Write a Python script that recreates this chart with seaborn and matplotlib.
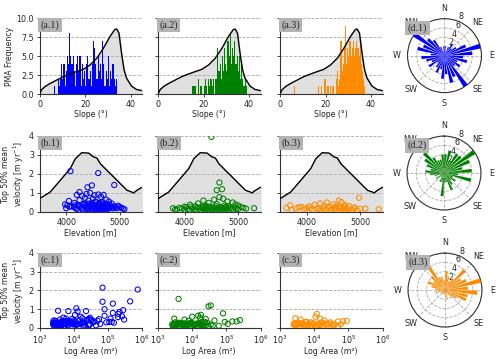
import numpy as np
import pandas as pd
import matplotlib
matplotlib.use("Agg")
import matplotlib.pyplot as plt
import seaborn as sns

# ---------------- data ----------------
colors = ["#0000ff", "#008000", "#ff8c00"]

# slope histogram bins (left edges, 0.5 deg wide) and PMA counts per group
slope_bin_left = np.arange(5.0, 39.0, 0.5)
blue_counts = [0, 0, 0, 1, 0, 0, 2, 1, 2, 4, 2, 4, 1, 3, 5, 4, 8, 5, 4, 5,
               3, 1, 4, 5, 3, 5, 1, 4, 2, 3, 1, 4, 5, 2, 3, 1, 4, 7, 6, 4,
               2, 5, 3, 4, 2, 7, 4, 1, 3, 2, 5, 1, 3, 2, 4, 2, 1, 2, 0, 0,
               0, 0, 0, 0, 0, 0, 0, 0]
green_counts = [0, 0, 0, 0, 0, 0, 0, 0, 0, 0, 0, 0, 0, 0, 0, 0, 0, 0, 0, 0,
                1, 1, 1, 0, 0, 2, 0, 1, 1, 0, 1, 2, 1, 0, 2, 1, 2, 1, 2, 0,
                2, 2, 6, 3, 4, 2, 5, 3, 6, 4, 3, 7, 5, 8, 4, 6, 5, 7, 4, 5,
                3, 5, 2, 4, 2, 1, 2, 1]
orange_counts = [0, 0, 1, 0, 0, 0, 0, 0, 0, 0, 0, 0, 0, 0, 0, 0, 0, 0, 0, 0,
                 0, 0, 0, 1, 0, 0, 1, 0, 0, 2, 0, 1, 1, 0, 1, 0, 1, 0, 0, 2,
                 3, 1, 2, 7, 3, 4, 6, 9, 4, 6, 5, 7, 5, 6, 7, 5, 6, 7, 6, 5,
                 7, 4, 3, 2, 1, 0, 0, 0]

# background slope distribution (scaled)
slope_bg_x = [0, 1, 2.5, 4.7, 7.6, 10.5, 13.4, 16.3, 19.3, 22.2, 25.1, 28, 31,
              33.1, 33.9, 34.9, 36, 37.1, 38.2, 40.4, 42.6, 45]
slope_bg_y = [0, 0.6, 1.0, 1.4, 1.85, 2.3, 2.64, 2.95, 3.26, 3.83, 4.7, 6.0,
              7.6, 8.5, 8.55, 8.0, 5.4, 3.2, 2.1, 1.05, 0.6, 0.45]

# background elevation distribution (scaled)
elev_bg_x = [3500, 3700, 3890, 4075, 4170, 4290, 4420, 4510, 4575, 4640, 4760,
             4890, 5010, 5140, 5230, 5260, 5325, 5420]
elev_bg_y = [0.7, 1.05, 1.67, 2.28, 2.8, 3.12, 3.1, 2.9, 2.84, 2.54, 2.2,
             1.84, 1.5, 1.14, 1.05, 1.0, 1.14, 1.3]

# per-PMA: velocity, elevation, area
blue_vel = [2.15, 2.05, 1.42, 1.40, 1.30, 1.05, 1.00, 0.95, 0.92, 0.90, 0.90, 0.88,
            0.85, 0.80, 0.75, 0.70, 0.65, 0.62, 0.60, 0.58, 0.55, 0.55, 0.50, 0.45,
            0.48, 0.40, 0.35, 0.30, 0.25, 0.20, 0.15, 0.38, 0.32, 0.28, 0.22, 0.18,
            0.12, 0.42, 0.36, 0.30, 0.26, 0.21, 0.16, 0.10, 0.44, 0.34, 0.29, 0.24,
            0.19, 0.14, 0.08, 0.40, 0.33, 0.27, 0.23, 0.17, 0.12, 0.06, 0.38, 0.31,
            0.26, 0.21, 0.15, 0.10, 0.42, 0.35, 0.28, 0.22, 0.17, 0.12, 0.36, 0.30,
            0.25, 0.20, 0.14, 0.09, 0.40, 0.32, 0.27, 0.22, 0.18, 0.35, 0.28, 0.23,
            0.19, 0.30, 0.25, 0.20, 0.33, 0.27, 0.22, 0.18, 0.15, 0.38, 0.45, 0.50,
            0.52, 0.48, 0.35, 0.28, 0.20, 0.47, 0.43]
blue_elev = [4080, 4600, 4900, 4480, 4400, 4250, 4450, 4380, 4600, 4200, 4700, 4530,
             4300, 4650, 4350, 4500, 4750, 4250, 4420, 4050, 4800, 4550, 4650, 4850,
             4150, 3980, 4020, 4100, 4150, 4180, 4200, 4220, 4240, 4260, 4280, 4300,
             4310, 4320, 4340, 4360, 4370, 4390, 4400, 4410, 4420, 4430, 4440, 4460,
             4470, 4480, 4490, 4500, 4510, 4520, 4530, 4540, 4550, 4560, 4570, 4580,
             4590, 4600, 4610, 4620, 4630, 4640, 4660, 4670, 4680, 4690, 4700, 4710,
             4720, 4730, 4740, 4750, 4760, 4770, 4780, 4790, 4800, 4820, 4840, 4860,
             4880, 4900, 4920, 4950, 4970, 5000, 5030, 5060, 5090, 4470, 4360, 4560,
             4680, 4480, 4150, 4060, 4000, 4620, 4740]
blue_area = [7.0e4, 7.5e5, 4.5e5, 7.0e4, 1.4e5, 1.2e4, 8.0e4, 2.8e5, 3.5e3, 7.0e3, 2.3e4, 1.3e4,
             2.2e5, 1.4e5, 2.0e5, 1.1e4, 8.0e4, 2.6e5, 1.6e4, 2.0e5, 5.0e3, 3.0e4, 1.2e5, 3.0e5,
             9.0e3, 2.6e3, 3.0e3, 4.0e3, 2.8e3, 5.5e3, 3.2e3, 6.0e3, 8.0e3, 2.5e3, 1.0e4, 4.5e3,
             3.5e3, 1.5e4, 6.5e3, 2.0e4, 9.0e3, 3.8e3, 1.2e4, 2.7e3, 2.5e4, 5.0e3, 1.8e4, 7.0e3,
             3.0e4, 4.2e3, 2.9e3, 1.0e4, 4.0e4, 6.0e3, 1.4e4, 3.3e3, 2.2e4, 5.2e3, 5.0e4, 8.5e3,
             1.7e4, 3.6e3, 2.8e4, 6.8e3, 3.4e4, 4.6e3, 1.1e4, 6.0e4, 2.6e3, 1.9e4, 7.5e3, 9.0e4,
             3.1e3, 1.3e4, 4.5e4, 5.8e3, 2.4e4, 1.1e5, 3.9e3, 1.6e4, 7.2e3, 3.8e4, 1.5e5, 2.9e3,
             1.2e4, 6.2e3, 2.1e4, 4.8e3, 1.3e5, 8.0e3, 3.4e3, 1.0e4, 2.7e4, 2.9e3, 4.0e3, 6.0e3,
             1.8e4, 2.8e4, 1.1e4, 5.0e3, 2.5e3, 5.5e4, 3.2e4]

green_vel = [3.95, 1.55, 1.20, 1.15, 0.78, 0.70, 0.65, 0.60, 0.55, 0.50, 0.48, 0.45,
             0.42, 0.40, 0.38, 0.35, 0.35, 0.32, 0.30, 0.20, 0.15, 0.22, 0.18, 0.12,
             0.25, 0.16, 0.10, 0.28, 0.20, 0.14, 0.08, 0.24, 0.18, 0.12, 0.26, 0.20,
             0.15, 0.10, 0.22, 0.17, 0.12, 0.28, 0.21, 0.16, 0.11, 0.25, 0.19, 0.14,
             0.09, 0.23, 0.18, 0.13, 0.27, 0.21, 0.16, 0.11, 0.24, 0.19, 0.14, 0.30,
             0.22, 0.17, 0.12, 0.25, 0.20, 0.15, 0.27, 0.22, 0.18, 0.20, 0.32, 0.30,
             0.26, 0.12, 0.28]
green_elev = [4500, 4650, 4700, 4600, 4650, 4720, 4550, 4350, 4800, 4900, 4450, 4250,
              4600, 4950, 4100, 5000, 4750, 4400, 4200, 3780, 3850, 3900, 3950, 4000,
              4030, 4060, 4090, 4120, 4150, 4180, 4210, 4240, 4270, 4300, 4320, 4340,
              4360, 4380, 4400, 4420, 4440, 4460, 4480, 4500, 4520, 4540, 4560, 4580,
              4600, 4620, 4640, 4660, 4680, 4700, 4720, 4740, 4760, 4780, 4800, 4820,
              4850, 4880, 4910, 4940, 4970, 5000, 5050, 5100, 5150, 5300, 4580, 4350,
              4780, 3820, 4000]
green_area = [2.7e3, 4.0e3, 3.5e4, 3.0e4, 8.0e4, 1.8e4, 1.5e4, 1.0e4, 1.7e4, 3.0e3, 2.5e4, 6.0e3,
              2.5e5, 4.5e4, 8.0e3, 2.0e5, 1.5e5, 9.0e4, 3.2e3, 2.6e3, 3.0e3, 4.0e3, 5.0e3, 2.8e3,
              6.0e3, 3.5e3, 7.0e3, 9.0e3, 4.5e3, 1.2e4, 3.0e3, 1.5e4, 5.5e3, 2.0e4, 3.8e3, 8.0e3,
              1.1e4, 2.7e3, 1.8e4, 6.5e3, 2.5e4, 4.2e3, 1.3e4, 7.5e3, 3.0e4, 5.0e3, 9.5e3, 2.2e4,
              3.3e3, 1.6e4, 6.0e3, 4.0e4, 1.0e4, 2.9e3, 2.0e4, 5.2e3, 1.4e4, 3.5e4, 7.0e3, 2.4e4,
              4.5e3, 1.2e4, 6.0e4, 8.5e3, 3.7e3, 1.7e4, 2.8e4, 1.1e5, 5.0e3, 1.3e4, 1.9e4, 2.3e4,
              9.0e3, 3.4e3, 2.0e4]

orange_vel = [0.75, 0.60, 0.52, 0.50, 0.45, 0.40, 0.38, 0.35, 0.33, 0.30, 0.30, 0.28,
              0.27, 0.25, 0.24, 0.22, 0.22, 0.20, 0.20, 0.19, 0.18, 0.18, 0.17, 0.16,
              0.15, 0.15, 0.14, 0.13, 0.12, 0.12, 0.11, 0.10, 0.10, 0.09, 0.08, 0.08,
              0.26, 0.23, 0.21, 0.29, 0.19, 0.14, 0.32, 0.25, 0.36, 0.18, 0.12, 0.22,
              0.16, 0.20]
orange_elev = [4980, 4600, 4650, 4380, 4250, 4500, 4150, 3690, 4700, 4050, 4800, 4420,
               3900, 4550, 4900, 3620, 4300, 4000, 4620, 4750, 3800, 4200, 4480, 5000,
               5350, 4350, 3950, 4680, 4100, 4560, 4850, 3720, 4450, 4720, 4250, 4950,
               4520, 4640, 4400, 4600, 4060, 4780, 4330, 3850, 4720, 5100, 4520, 4700,
               4230, 4880]
orange_area = [1.2e4, 1.1e4, 2.8e3, 1.5e4, 4.0e3, 2.0e4, 9.0e4, 5.0e4, 6.0e3, 3.0e4, 8.0e3, 3.5e3,
               1.8e4, 4.5e3, 2.5e4, 7.0e3, 1.0e4, 3.0e3, 1.3e4, 4.0e4, 5.5e3, 2.2e4, 3.2e3, 6.5e3,
               1.6e4, 2.7e3, 8.5e3, 3.6e4, 4.8e3, 1.1e4, 2.9e3, 1.9e4, 6.0e3, 5.0e4, 3.8e3, 7.5e3,
               9.0e3, 3.0e4, 4.2e3, 1.6e4, 2.5e3, 1.2e4, 5.5e3, 2.6e3, 7.0e4, 3.4e4, 2.4e4, 4.0e3,
               1.4e4, 6.0e4]

# aspect roses (10 deg sectors, centres 5..355)
aspect_centres = np.arange(5, 360, 10)
blue_aspect = [2, 1, 2, 3, 2, 3, 5, 8, 6, 4, 5, 3, 4, 3, 8, 5, 6, 4,
               5, 3, 4, 3, 2, 4, 3, 4, 5, 3, 6, 5, 8, 5, 4, 2, 1, 2]
green_aspect = [4, 5, 3, 5, 5, 8, 6, 4, 6, 3, 6, 2, 3, 2, 3, 4, 2, 2,
                5, 2, 2, 1, 1, 2, 1, 2, 3, 4, 3, 4, 5, 6, 4, 3, 3, 4]
orange_aspect = [4, 3, 2, 3, 6, 4, 5, 8, 5, 7, 5, 5, 3, 2, 1, 1, 2, 1,
                 1, 1, 1, 1, 1, 1, 1, 2, 1, 2, 3, 4, 3, 4, 7, 3, 3, 2]

counts = [blue_counts, green_counts, orange_counts]
vels = [blue_vel, green_vel, orange_vel]
elevs = [blue_elev, green_elev, orange_elev]
areas = [blue_area, green_area, orange_area]
aspects = [blue_aspect, green_aspect, orange_aspect]

# ---------------- style ----------------
sns.set_style("ticks")
plt.rcParams["font.family"] = ["DejaVu Sans"]
TICK = 5.8
LAB = 5.6
GRID = dict(color="#aaaaaa", linestyle="--", linewidth=0.6)
BOX = dict(boxstyle="square,pad=0.25", facecolor="#b4b4b4", edgecolor="none")
SERIF = ["Liberation Serif", "DejaVu Serif"]

fig = plt.figure(figsize=(5, 3.59), dpi=100)
col_left = [0.079, 0.316, 0.56]
W = 0.205
rows = [(0.738, 0.2117), (0.4095, 0.2117), (0.0864, 0.209)]
polar_boxes = [(0.815, 0.742), (0.814, 0.415), (0.816, 0.089)]
PW, PH = 0.148, 0.206


def style_cart(ax, show_ylab):
    sns.despine(ax=ax)
    ax.tick_params(labelsize=TICK, length=2.5, width=0.6, pad=1.5)
    if not show_ylab:
        ax.set_yticklabels([])
    for s in ["left", "bottom"]:
        ax.spines[s].set_linewidth(0.8)
        ax.spines[s].set_color("#333333")
    ax.set_axisbelow(True)
    ax.yaxis.grid(True, **GRID)


def tag(ax, s, x=0.01, y=0.97):
    ax.text(x, y, s, transform=ax.transAxes, ha="left", va="top",
            fontsize=7.2, family=SERIF, bbox=BOX, zorder=10)


for i in range(3):
    # ---- row a: slope ----
    ax = fig.add_axes([col_left[i], rows[0][0], W, rows[0][1]])
    ax.fill_between(slope_bg_x, slope_bg_y, color="#e0e0e0", zorder=0)
    sns.lineplot(x=slope_bg_x, y=slope_bg_y, ax=ax, color="black", lw=1.0, zorder=3)
    hist_df = pd.DataFrame({"slope": slope_bin_left + 0.25, "n": counts[i]})
    sns.histplot(data=hist_df, x="slope", weights="n", binwidth=0.5,
                 binrange=(5.0, 39.0), ax=ax, color=colors[i], alpha=1,
                 linewidth=0, zorder=2)
    ax.set_xlim(0, 45)
    ax.set_ylim(0, 10)
    ax.set_xticks([0, 20, 40])
    ax.set_yticks([0, 2.5, 5, 7.5, 10])
    ax.set_xlabel("Slope (°)", fontsize=LAB, labelpad=1)
    ax.set_ylabel("PMA Frequency" if i == 0 else "", fontsize=LAB, labelpad=2)
    style_cart(ax, i == 0)
    tag(ax, f"(a.{i+1})")

    # ---- row b: elevation ----
    ax = fig.add_axes([col_left[i], rows[1][0], W, rows[1][1]])
    ax.fill_between(elev_bg_x, elev_bg_y, color="#e0e0e0", zorder=0)
    sns.lineplot(x=elev_bg_x, y=elev_bg_y, ax=ax, color="black", lw=1.0, zorder=3)
    sns.scatterplot(x=elevs[i], y=vels[i], ax=ax, marker="o", s=14,
                    facecolor="none", edgecolor=colors[i], linewidth=0.75, zorder=4)
    ax.set_xlim(3500, 5420)
    ax.set_ylim(0, 4)
    ax.set_xticks([4000, 5000])
    ax.set_yticks([0, 1, 2, 3, 4])
    ax.set_xlabel("Elevation [m]", fontsize=LAB, labelpad=1)
    ax.set_ylabel("Top 50% mean\nvelocity [m yr$^{-1}$]" if i == 0 else "",
                  fontsize=LAB, labelpad=2)
    style_cart(ax, i == 0)
    tag(ax, f"(b.{i+1})")

    # ---- row c: area ----
    ax = fig.add_axes([col_left[i], rows[2][0], W, rows[2][1]])
    sns.scatterplot(x=areas[i], y=vels[i], ax=ax, marker="o", s=14,
                    facecolor="none", edgecolor=colors[i], linewidth=0.75, zorder=4)
    ax.set_xscale("log")
    ax.set_xlim(1e3, 1e6)
    ax.set_ylim(0, 4)
    ax.set_xticks([1e3, 1e4, 1e5, 1e6])
    ax.minorticks_off()
    ax.set_yticks([0, 1, 2, 3, 4])
    ax.set_xlabel("Log Area (m²)", fontsize=LAB, labelpad=1)
    ax.set_ylabel("Top 50% mean\nvelocity [m yr$^{-1}$]" if i == 0 else "",
                  fontsize=LAB, labelpad=2)
    style_cart(ax, i == 0)
    tag(ax, f"(c.{i+1})")

    # ---- column d: aspect rose ----
    pl, pb = polar_boxes[i]
    axp = fig.add_axes([pl, pb, PW, PH], projection="polar")
    axp.set_theta_zero_location("N")
    axp.set_theta_direction(-1)
    axp.bar(np.deg2rad(aspect_centres), aspects[i], width=np.deg2rad(7.5),
            color=colors[i], edgecolor="none", zorder=3)
    axp.set_ylim(0, 8)
    axp.set_yticks([2, 4, 6, 8])
    axp.set_yticklabels(["2", "4", "6", "8"], fontsize=TICK)
    axp.set_rlabel_position(22.5)
    axp.set_xticks(np.deg2rad(np.arange(0, 360, 45)))
    axp.set_xticklabels(["N", "NE", "E", "SE", "S", "SW", "W", "NW"], fontsize=TICK)
    axp.tick_params(axis="x", pad=-3)
    axp.tick_params(axis="y", pad=0)
    axp.grid(True, **GRID)
    axp.spines["polar"].set_linewidth(0.8)
    axp.spines["polar"].set_color("#333333")
    tag(axp, f"(d.{i+1})", x=0.0, y=0.94)

fig.savefig("out.png", dpi=100)
